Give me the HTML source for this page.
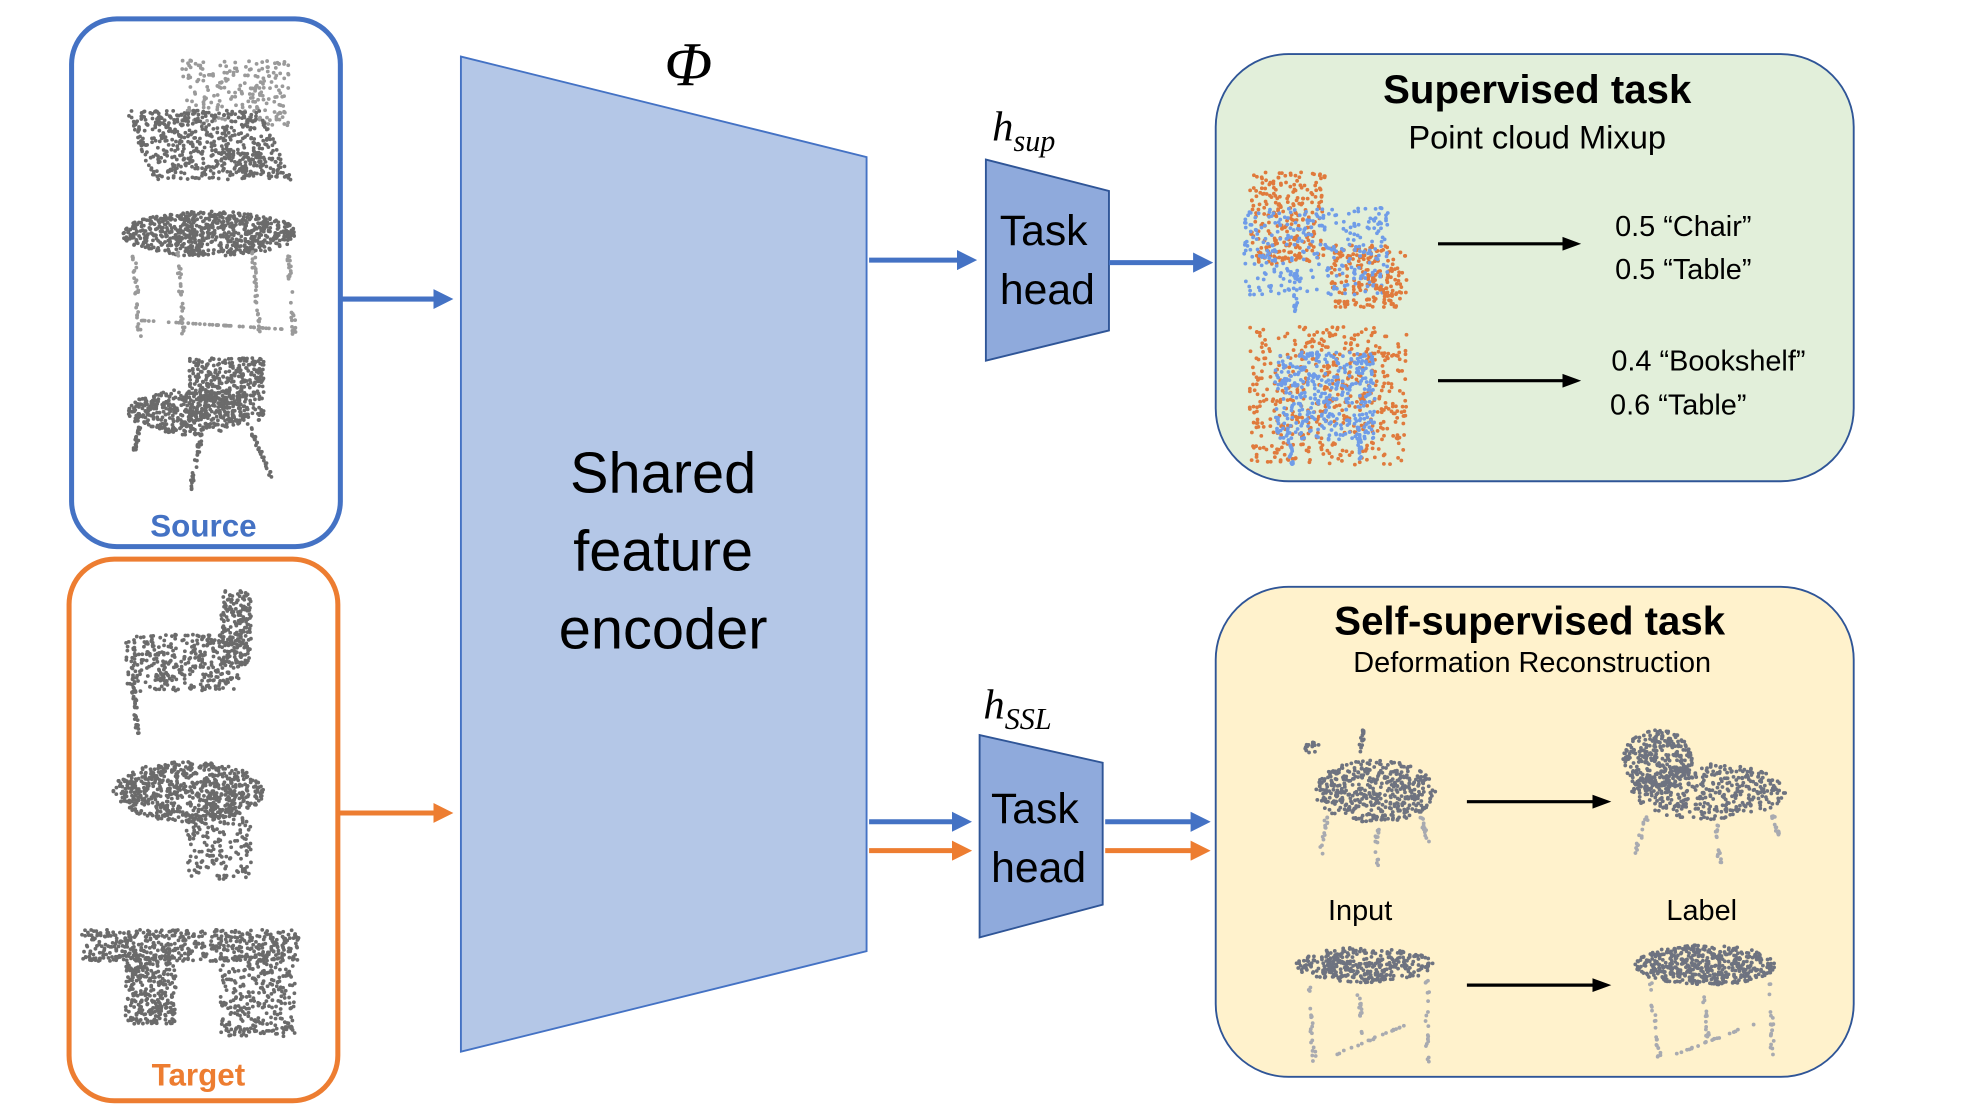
<!DOCTYPE html>
<html><head><meta charset="utf-8"><style>
html,body{margin:0;padding:0;background:#fff;}
svg{display:block;}
text{font-family:"Liberation Sans",sans-serif;}
</style></head><body>
<svg id="s" width="1968" height="1107" viewBox="0 0 1567 881" preserveAspectRatio="none" xmlns="http://www.w3.org/2000/svg">
<defs>
<marker id="ab" markerWidth="4" markerHeight="4" refX="2.5" refY="2" orient="auto" markerUnits="strokeWidth"><path d="M0,0 L4,2 L0,4 z" fill="#4472c4"/></marker>
<marker id="ao" markerWidth="4" markerHeight="4" refX="2.5" refY="2" orient="auto" markerUnits="strokeWidth"><path d="M0,0 L4,2 L0,4 z" fill="#ed7d31"/></marker>
<marker id="ak" markerWidth="6" markerHeight="6" refX="4" refY="3" orient="auto" markerUnits="strokeWidth"><path d="M0,0.8 L6,3 L0,5.2 z" fill="#000"/></marker>
</defs>
<rect width="1567" height="881" fill="#fff"/>
<rect x="57" y="15" width="214" height="420" rx="36" fill="none" stroke="#4472c4" stroke-width="4"/>
<text x="162" y="427" font-size="25" font-weight="bold" fill="#4472c4" text-anchor="middle">Source</text>
<rect x="55" y="445" width="214" height="431" rx="36" fill="none" stroke="#ed7d31" stroke-width="4"/>
<text x="158" y="864" font-size="25" font-weight="bold" fill="#ed7d31" text-anchor="middle">Target</text>

<polygon points="367,45 690,125 690,757 367,837" fill="#b4c7e7" stroke="#4472c4" stroke-width="1.5"/>
<text x="548" y="68" font-size="50" font-style="italic" text-anchor="middle" style="font-family:'Liberation Serif',serif">Φ</text>
<text x="528" y="392" font-size="46" text-anchor="middle">Shared</text>
<text x="528" y="454" font-size="46" text-anchor="middle">feature</text>
<text x="528" y="516" font-size="46" text-anchor="middle">encoder</text>

<line x1="272" y1="238" x2="355" y2="238" stroke="#4472c4" stroke-width="4" marker-end="url(#ab)"/>
<line x1="270" y1="647" x2="355" y2="647" stroke="#ed7d31" stroke-width="4" marker-end="url(#ao)"/>

<polygon points="785,127 883,152 883,263 785,287" fill="#8faadc" stroke="#2f5597" stroke-width="1.5"/>
<text x="831" y="195" font-size="34" text-anchor="middle">Task</text>
<text x="834" y="242" font-size="34" text-anchor="middle">head</text>
<text x="790" y="112" font-size="34" font-style="italic" style="font-family:'Liberation Serif',serif">h<tspan font-size="24" dy="8">sup</tspan></text>
<line x1="692" y1="207" x2="772" y2="207" stroke="#4472c4" stroke-width="4" marker-end="url(#ab)"/>
<line x1="883" y1="209" x2="960" y2="209" stroke="#4472c4" stroke-width="4" marker-end="url(#ab)"/>

<polygon points="780,585 878,607 878,720 780,746" fill="#8faadc" stroke="#2f5597" stroke-width="1.5"/>
<text x="824" y="655" font-size="34" text-anchor="middle">Task</text>
<text x="827" y="702" font-size="34" text-anchor="middle">head</text>
<text x="783" y="572" font-size="34" font-style="italic" style="font-family:'Liberation Serif',serif">h<tspan font-size="24" dy="8">SSL</tspan></text>
<line x1="692" y1="654" x2="768" y2="654" stroke="#4472c4" stroke-width="4" marker-end="url(#ab)"/>
<line x1="692" y1="677" x2="768" y2="677" stroke="#ed7d31" stroke-width="4" marker-end="url(#ao)"/>
<line x1="880" y1="654" x2="958" y2="654" stroke="#4472c4" stroke-width="4" marker-end="url(#ab)"/>
<line x1="880" y1="677" x2="958" y2="677" stroke="#ed7d31" stroke-width="4" marker-end="url(#ao)"/>

<rect x="968" y="43" width="508" height="340" rx="58" fill="#e2efda" stroke="#2f5597" stroke-width="1.5"/>
<text x="1224" y="82" font-size="32" font-weight="bold" text-anchor="middle">Supervised task</text>
<text x="1224" y="118" font-size="26" text-anchor="middle">Point cloud Mixup</text>
<line x1="1145" y1="194" x2="1254" y2="194" stroke="#000" stroke-width="2.5" marker-end="url(#ak)"/>
<line x1="1145" y1="303" x2="1254" y2="303" stroke="#000" stroke-width="2.5" marker-end="url(#ak)"/>
<text x="1286" y="188" font-size="23">0.5 “Chair”</text>
<text x="1286" y="222" font-size="23">0.5 “Table”</text>
<text x="1283" y="295" font-size="23">0.4 “Bookshelf”</text>
<text x="1282" y="330" font-size="23">0.6 “Table”</text>

<rect x="968" y="467" width="508" height="390" rx="58" fill="#fff2cc" stroke="#2f5597" stroke-width="1.5"/>
<text x="1218" y="505" font-size="32" font-weight="bold" text-anchor="middle">Self-supervised task</text>
<text x="1220" y="535" font-size="23" text-anchor="middle">Deformation Reconstruction</text>
<line x1="1168" y1="638" x2="1278" y2="638" stroke="#000" stroke-width="2.5" marker-end="url(#ak)"/>
<line x1="1168" y1="784" x2="1278" y2="784" stroke="#000" stroke-width="2.5" marker-end="url(#ak)"/>
<text x="1083" y="732" font-size="23" text-anchor="middle">Input</text>
<text x="1355" y="732" font-size="23" text-anchor="middle">Label</text>
<g id="pts"></g>
</svg>
<script>
(function(){
var g=document.getElementById('pts'),seed=7;
function r(){seed=(seed*16807)%2147483647;return seed/2147483647;}
var out='';
function rect(x0,y0,x1,y1,n,c,rad){for(var i=0;i<n;i++){out+='<circle cx="'+(x0+r()*(x1-x0)).toFixed(1)+'" cy="'+(y0+r()*(y1-y0)).toFixed(1)+'" r="'+(rad||1.5)+'" fill="'+c+'"/>';}}
function para(x0,y0,w,h,sk,n,c){for(var i=0;i<n;i++){var t=r(),u=r();out+='<circle cx="'+(x0+u*w+t*sk).toFixed(1)+'" cy="'+(y0+t*h).toFixed(1)+'" r="1.5" fill="'+c+'"/>';}}
function ell(cx,cy,rx,ry,n,c){for(var i=0;i<n;i++){var a=r()*6.283,d=Math.sqrt(r());out+='<circle cx="'+(cx+Math.cos(a)*rx*d).toFixed(1)+'" cy="'+(cy+Math.sin(a)*ry*d).toFixed(1)+'" r="1.5" fill="'+c+'"/>';}}
function line(x0,y0,x1,y1,n,c){for(var i=0;i<n;i++){var t=r();out+='<circle cx="'+(x0+t*(x1-x0)+r()*3).toFixed(1)+'" cy="'+(y0+t*(y1-y0)).toFixed(1)+'" r="1.5" fill="'+c+'"/>';}}
var G='#6b6b6b',L='#9a9a9a';
rect(145,48,230,100,220,L);para(100,88,110,55,22,600,G);
ell(167,186,70,18,700,G);[105,140,200,228].forEach(function(x){line(x,200,x+5,268,30,L);});line(110,255,225,262,40,L);
para(150,285,60,50,0,400,G);ell(150,328,48,18,400,G);line(110,340,105,360,25,G);line(160,340,150,390,30,G);line(195,335,215,380,30,G);
rect(175,470,200,530,200,G);rect(100,505,190,550,350,G);line(105,550,108,585,30,G);
ell(150,630,60,24,700,G);rect(148,650,200,700,150,G);
rect(65,740,238,765,500,G);rect(100,760,140,815,300,G);rect(175,760,235,825,300,G);
var O='#e07a3c',B='#6f9ce8';
rect(995,137,1055,210,250,O);rect(1060,195,1120,245,200,O);rect(990,165,1105,235,300,B);line(1030,215,1030,250,20,B);line(1090,220,1110,245,20,O);
rect(995,260,1120,370,500,O);rect(1015,280,1095,350,380,B);line(1025,340,1027,372,20,B);line(1080,340,1082,372,20,B);
var D='#6e7380',DL='#a8aab0';
ell(1095,630,48,25,450,D);line(1080,600,1085,580,15,D);line(1055,650,1050,680,15,DL);line(1095,655,1095,690,15,DL);line(1130,650,1135,670,15,DL);ell(1045,595,6,5,15,D);
ell(1320,605,28,25,300,D);ell(1360,630,62,22,400,D);line(1310,650,1300,680,15,DL);line(1365,655,1368,690,15,DL);line(1410,648,1415,665,15,DL);
ell(1087,768,55,14,350,D);line(1040,780,1045,845,20,DL);line(1135,780,1135,845,20,DL);line(1060,840,1120,815,20,DL);line(1080,790,1083,825,15,DL);
ell(1358,768,56,16,500,D);line(1312,780,1320,845,20,DL);line(1408,780,1410,845,20,DL);line(1330,840,1395,815,20,DL);line(1355,790,1358,825,15,DL);
g.innerHTML=out;
})();
</script>
</body></html>
